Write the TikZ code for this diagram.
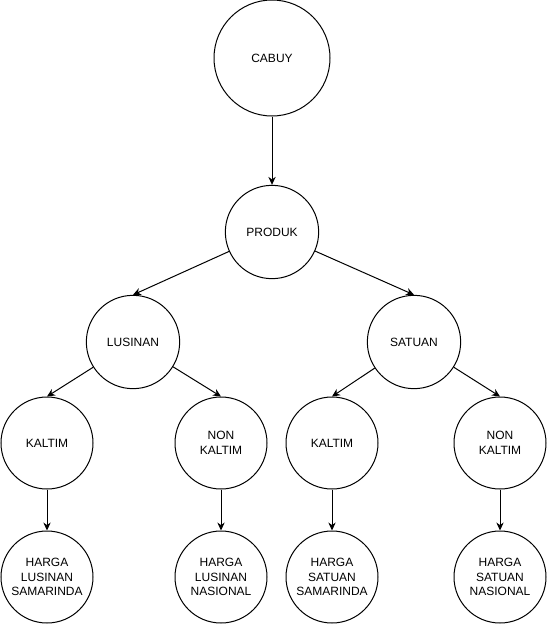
\documentclass[tikz,border=0pt]{standalone}
\usepackage{fontspec}
\setmainfont{Liberation Sans}
\usetikzlibrary{arrows.meta,positioning}

\begin{document}
\begin{tikzpicture}[
    x=0.75pt, y=-0.75pt,
    circ/.style={circle, draw, line width=0.75pt, inner sep=0pt, align=center, font=\fontsize{9pt}{10.8pt}\selectfont},
    big/.style={circ, minimum size=87pt},
    mid/.style={circ, minimum size=70pt},
    small/.style={circ, minimum size=69pt},
    arrow/.style={-{Stealth[length=6pt, width=5.5pt]}, line width=0.75pt}
]
\useasboundingbox (0,0) rectangle (547,625);

% Nodes
\node[big]   (cabuy)      at (272, 58)  {CABUY};
\node[mid]   (produk)     at (272, 232) {PRODUK};
\node[mid]   (lusinan)    at (133, 342) {LUSINAN};
\node[mid]   (satuan)     at (414, 342) {SATUAN};
\node[small] (lkaltim)    at (47,  443) {KALTIM};
\node[small] (lnonkaltim) at (221, 443) {NON\\KALTIM};
\node[small] (skaltim)    at (332, 443) {KALTIM};
\node[small] (snonkaltim) at (500, 443) {NON\\KALTIM};
\node[small] (lsmd)       at (47,  577) {HARGA\\LUSINAN\\SAMARINDA};
\node[small] (lnas)       at (221, 577) {HARGA\\LUSINAN\\NASIONAL};
\node[small] (ssmd)       at (332, 577) {HARGA\\SATUAN\\SAMARINDA};
\node[small] (snas)       at (500, 577) {HARGA\\SATUAN\\NASIONAL};

% Arrows
\draw[arrow] (cabuy.south) -- (produk.north);
\draw[arrow] (produk)      -- (lusinan.north);
\draw[arrow] (produk)      -- (satuan.north);
\draw[arrow] (lusinan)     -- (lkaltim.north);
\draw[arrow] (lusinan)     -- (lnonkaltim.north);
\draw[arrow] (satuan)      -- (skaltim.north);
\draw[arrow] (satuan)      -- (snonkaltim.north);
\draw[arrow] (lkaltim.south)    -- (lsmd.north);
\draw[arrow] (lnonkaltim.south) -- (lnas.north);
\draw[arrow] (skaltim.south)    -- (ssmd.north);
\draw[arrow] (snonkaltim.south) -- (snas.north);

\end{tikzpicture}
\end{document}
